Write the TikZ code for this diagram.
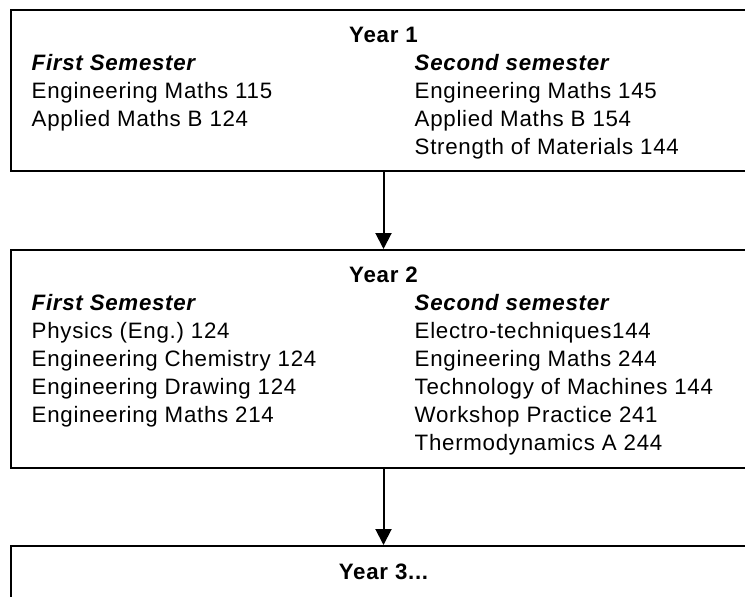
\documentclass[tikz,border=0pt]{standalone}
\usepackage{fontspec}
\setmainfont{Liberation Sans}[LetterSpace=3.2]
\usepackage{tikz}
\usetikzlibrary{arrows.meta}
\frenchspacing
\tikzset{
  yearbox/.style={draw=black,line width=2pt,inner sep=0pt,minimum width=745pt},
  yeartitle/.style={anchor=base,inner sep=0pt,font=\fontsize{22.3}{28}\selectfont\bfseries},
  semtitle/.style={anchor=base west,inner sep=0pt,font=\fontsize{22.3}{28}\selectfont\bfseries\itshape},
  course/.style={anchor=base west,inner sep=0pt,font=\fontsize{22.3}{28}\selectfont},
  connector/.style={line width=2pt,-{Triangle[length=16pt,width=16pt]}}
}

\begin{document}
\begin{tikzpicture}[x=1pt,y=-1pt]
\path[use as bounding box] (0,0) rectangle (745,597);
\clip (0,0) rectangle (745,597);
% boxes, cut by the right and bottom edge
\node[yearbox,minimum height=161pt] (year1) at (383.5,90.5) {};
\node[yearbox,minimum height=218pt] (year2) at (383.5,359) {};
\node[yearbox,minimum height=94pt] (year3) at (383.5,593) {};
\draw[connector] (year1.south) -- (year2.north);
\draw[connector] (year2.south) -- (year3.north);
% year 1
\node[yeartitle] (y1title) at (383.5,42) {Year 1};
\node[semtitle] (y1first) at (31.5,70) {First Semester};
\node[semtitle] (y1second) at (414.5,70) {Second semester};
\foreach \txt [count=\i from 0] in {Engineering Maths 115, Applied Maths B 124}
  \node[course] (y1a\i) at (31.5,98+28*\i) {\txt};
\foreach \txt [count=\i from 0] in {Engineering Maths 145, Applied Maths B 154, Strength of Materials 144}
  \node[course] (y1b\i) at (414.5,98+28*\i) {\txt};
% year 2
\node[yeartitle] (y2title) at (383.5,282) {Year 2};
\node[semtitle] (y2first) at (31.5,310) {First Semester};
\node[semtitle] (y2second) at (414.5,310) {Second semester};
\foreach \txt [count=\i from 0] in {Physics (Eng.) 124, Engineering Chemistry 124, Engineering Drawing 124, Engineering Maths 214}
  \node[course] (y2a\i) at (31.5,338+28*\i) {\txt};
\foreach \txt [count=\i from 0] in {Electro-techniques144, Engineering Maths 244, Technology of Machines 144, Workshop Practice 241, Thermodynamics A 244}
  \node[course] (y2b\i) at (414.5,338+28*\i) {\txt};
% year 3
\node[yeartitle] (y3title) at (383.5,579) {Year 3...};
\end{tikzpicture}
\end{document}
